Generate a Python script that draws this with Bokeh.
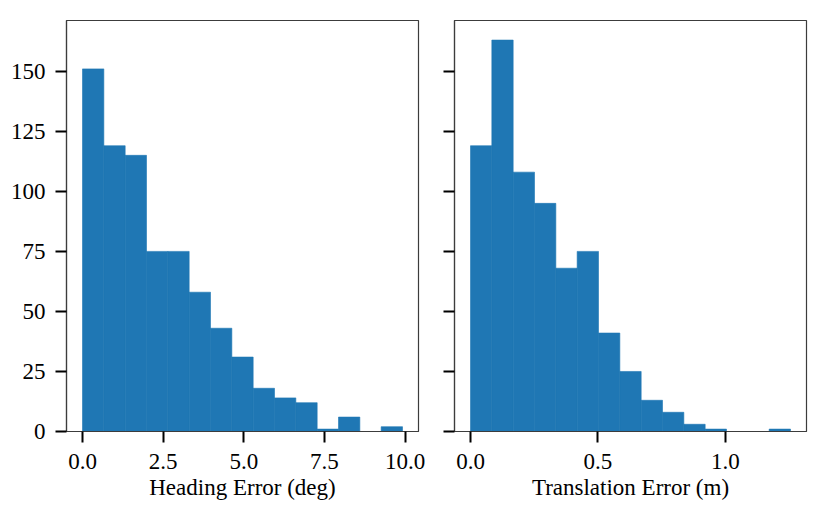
import numpy as np
from bokeh.plotting import figure
from bokeh.layouts import row
from bokeh.models import Range1d, FixedTicker, ColumnDataSource
from bokeh.embed import file_html
from bokeh.resources import INLINE

# ---- data ----
heading_counts = [151, 119, 115, 75, 75, 58, 43, 31, 18, 14, 12, 1, 6, 0, 2]
heading_min, heading_max = 0.0, 9.92
heading_ticks = [0, 2.5, 5, 7.5, 10]
heading_tick_labels = ["0.0", "2.5", "5.0", "7.5", "10.0"]

translation_counts = [119, 163, 108, 95, 68, 75, 41, 25, 13, 8, 3, 1, 0, 0, 1]
translation_min, translation_max = 0.0, 1.2555
translation_ticks = [0, 0.5, 1.0]
translation_tick_labels = ["0.0", "0.5", "1.0"]

y_ticks = [0, 25, 50, 75, 100, 125, 150]

FONT = "Liberation Serif"
FS = "23px"
BAR = "#1f77b4"
SPINE = "#3c3c3c"


def make_hist(counts, vmin, vmax, ticks, tick_labels, xlabel, left_labels,
              border_left, border_right):
    n = len(counts)
    edges = np.linspace(vmin, vmax, n + 1)
    span = vmax - vmin
    ymax = max(max(heading_counts), max(translation_counts)) * 1.05
    p = figure(frame_width=352, frame_height=411,
               min_border_left=border_left, min_border_right=border_right,
               min_border_top=20, min_border_bottom=80,
               x_range=Range1d(vmin - 0.05 * span, vmax + 0.05 * span),
               y_range=Range1d(0, ymax),
               output_backend="svg", toolbar_location=None)
    src = ColumnDataSource(dict(left=edges[:-1], right=edges[1:],
                                top=counts, bottom=[0] * n))
    p.quad(left="left", right="right", top="top", bottom="bottom",
           source=src, fill_color=BAR, line_color=BAR, line_width=0.6)
    p.grid.visible = False
    p.background_fill_color = "white"
    p.border_fill_color = "white"
    p.outline_line_color = SPINE
    p.outline_line_width = 1.2

    p.xaxis.ticker = FixedTicker(ticks=ticks)
    p.xaxis.major_label_overrides = {t: l for t, l in zip(ticks, tick_labels)}
    p.yaxis.ticker = FixedTicker(ticks=y_ticks)
    p.xaxis.axis_label = xlabel

    for ax in (p.xaxis[0], p.yaxis[0]):
        ax.axis_line_color = SPINE
        ax.axis_line_width = 1.2
        ax.major_tick_line_color = "black"
        ax.major_tick_line_width = 2
        ax.major_tick_out = 11
        ax.major_tick_in = 0
        ax.minor_tick_line_color = None
        ax.major_label_text_font = FONT
        ax.major_label_text_font_size = FS
        ax.major_label_text_color = "black"
        ax.axis_label_text_font = FONT
        ax.axis_label_text_font_size = FS
        ax.axis_label_text_font_style = "normal"
        ax.axis_label_text_color = "black"
    p.xaxis.major_label_standoff = 11
    p.xaxis.axis_label_standoff = 3
    p.yaxis.major_label_standoff = 10
    if not left_labels:
        p.yaxis.major_label_overrides = {t: "" for t in y_ticks}
        p.yaxis.major_label_standoff = 0
    return p


p1 = make_hist(heading_counts, heading_min, heading_max, heading_ticks,
               heading_tick_labels, "Heading Error (deg)", True, 66, 18)
p2 = make_hist(translation_counts, translation_min, translation_max,
               translation_ticks, translation_tick_labels,
               "Translation Error (m)", False, 18, 17)

layout = row(p1, p2)
open("out.html", "w").write(file_html(layout, INLINE))
